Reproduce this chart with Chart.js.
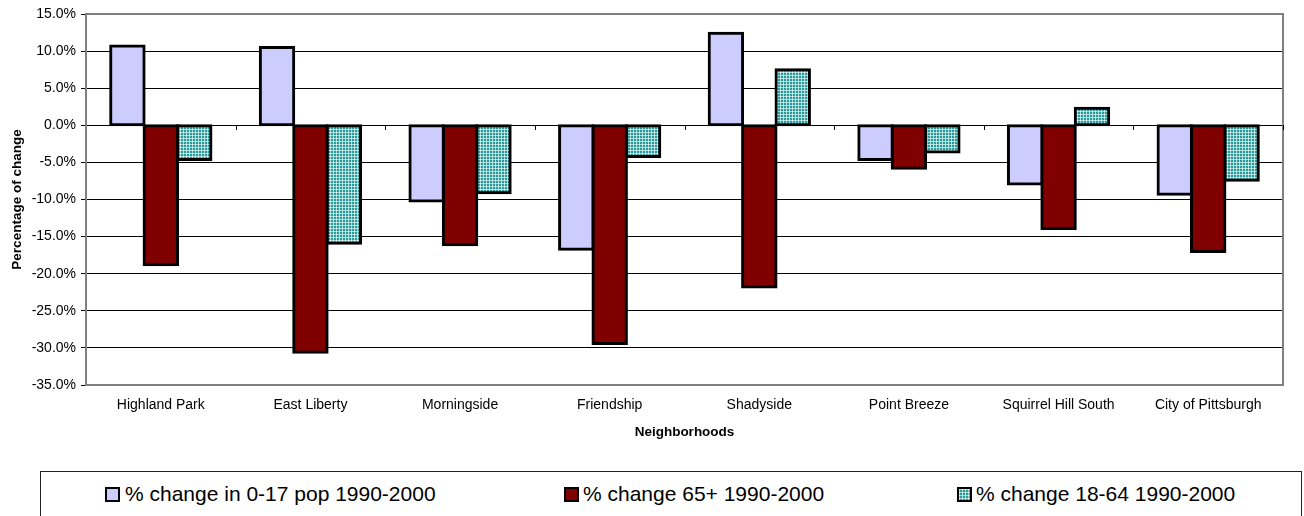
<!DOCTYPE html>
<html lang="en">
<head>
    <meta charset="UTF-8">
    <title>Percentage of change by neighborhood</title>
    <style>
        body { margin: 0; background: #fff; font-family: "Liberation Sans", Arial, sans-serif; }
        #wrap { position: relative; width: 1304px; height: 516px; overflow: hidden; }
        #legendBox {
            position: absolute; left: 40px; top: 471px; width: 1262px; height: 60px;
            border: 1px solid #222; box-sizing: border-box;
        }
        .swatch { position: absolute; top: 487px; width: 15px; height: 15px; border: 2px solid #000; box-sizing: border-box; }
        .label { position: absolute; top: 482px; font-size: 21px; line-height: 24px; color: #000; white-space: nowrap; }
    </style>
</head>
<body>
<div id="wrap">
    <canvas id="chart" width="1304" height="460"></canvas>
    <div id="legendBox"></div>
    <span class="swatch" style="left:105px;background:#ccccff"></span>
    <span class="label" style="left:125px">% change in 0-17 pop 1990-2000</span>
    <span class="swatch" style="left:564px;background:#800000"></span>
    <span class="label" style="left:583px">% change 65+ 1990-2000</span>
    <span class="swatch" id="tealSwatch" style="left:957px;background:#4fb0b0"></span>
    <span class="label" style="left:976px">% change 18-64 1990-2000</span>
</div>

<script src="https://cdn.jsdelivr.net/npm/chart.js"></script>
<script>
    const neighborhoods = ['Highland Park', 'East Liberty', 'Morningside', 'Friendship',
        'Shadyside', 'Point Breeze', 'Squirrel Hill South', 'City of Pittsburgh'];
    const youth = [10.7, 10.5, -10.2, -16.7, 12.4, -4.6, -7.9, -9.3];
    const seniors = [-18.8, -30.6, -16.1, -29.4, -21.8, -5.8, -13.9, -17.0];
    const adults = [-4.6, -15.9, -9.1, -4.2, 7.5, -3.6, 2.3, -7.4];
    const yTicks = [15, 10, 5, 0, -5, -10, -15, -20, -25, -30, -35];

    // dotted teal fill like the old excel pattern
    const tile = document.createElement('canvas');
    tile.width = 3; tile.height = 3;
    const g = tile.getContext('2d');
    g.fillStyle = '#339999';
    g.fillRect(0, 0, 3, 3);
    g.fillStyle = '#99dddd';
    g.fillRect(0, 0, 3, 1);
    g.fillRect(0, 0, 1, 3);
    g.fillStyle = '#ffffff';
    g.fillRect(0, 0, 1, 1);
    const teal = document.getElementById('chart').getContext('2d').createPattern(tile, 'repeat');
    document.getElementById('tealSwatch').style.background = 'url(' + tile.toDataURL() + ')';

    const frame = {
        id: 'frame',
        afterDraw(chart) {
            const { ctx, chartArea: a, scales } = chart;
            ctx.save();
            ctx.strokeStyle = '#808080';
            ctx.lineWidth = 2;
            ctx.beginPath();
            ctx.moveTo(a.left, a.top); ctx.lineTo(a.right, a.top);
            ctx.lineTo(a.right, a.bottom); ctx.lineTo(a.left, a.bottom);
            ctx.stroke();
            // small category ticks on the zero line
            const y0 = Math.round(scales.y.getPixelForValue(0));
            ctx.strokeStyle = '#000';
            ctx.lineWidth = 1;
            const n = neighborhoods.length;
            for (let i = 1; i <= n; i++) {
                const x = Math.round(a.left + (a.right - a.left) * i / n) + 0.5;
                ctx.beginPath();
                ctx.moveTo(x, y0); ctx.lineTo(x, y0 + 5);
                ctx.stroke();
            }
            ctx.restore();
        }
    };

    const font = { family: '"Liberation Sans", Arial, sans-serif', size: 14 };
    const titleFont = { family: '"Liberation Sans", Arial, sans-serif', size: 13.5, weight: 'bold' };

    new Chart(document.getElementById('chart'), {
        type: 'bar',
        data: {
            labels: neighborhoods,
            datasets: [
                { label: '% change in 0-17 pop 1990-2000', data: youth, backgroundColor: '#ccccff' },
                { label: '% change 65+ 1990-2000', data: seniors, backgroundColor: '#800000' },
                { label: '% change 18-64 1990-2000', data: adults, backgroundColor: teal }
            ].map(d => Object.assign(d, {
                borderColor: '#000', borderWidth: 3, borderSkipped: false, inflateAmount: 1.5,
                categoryPercentage: 0.67, barPercentage: 1.0
            }))
        },
        options: {
            responsive: false,
            animation: false,
            layout: { padding: { top: 14, right: 21, left: 0, bottom: 0 } },
            plugins: { legend: { display: false }, tooltip: { enabled: false } },
            scales: {
                x: {
                    grid: { display: false, drawTicks: false, tickLength: 0 },
                    border: { display: false },
                    ticks: { color: '#000', font: font, padding: 12, maxRotation: 0 },
                    title: { display: true, text: 'Neighborhoods', color: '#000',
                        font: titleFont, padding: { top: 0, bottom: 20 } },
                    afterFit: s => { s.height = 75; }
                },
                y: {
                    min: -35, max: 15,
                    afterBuildTicks: s => { s.ticks = yTicks.map(v => ({ value: v })); },
                    grid: { color: '#000', lineWidth: 1, tickLength: 5, tickColor: '#000' },
                    border: { color: '#808080', width: 2 },
                    ticks: { color: '#000', font: font, padding: 5,
                        callback: v => v.toFixed(1) + '%' },
                    title: { display: true, text: 'Percentage of change', color: '#000',
                        font: titleFont, padding: { top: 9, bottom: 0 } },
                    afterFit: s => { s.width = 86; }
                }
            }
        },
        plugins: [frame]
    });
</script>
</body>
</html>
